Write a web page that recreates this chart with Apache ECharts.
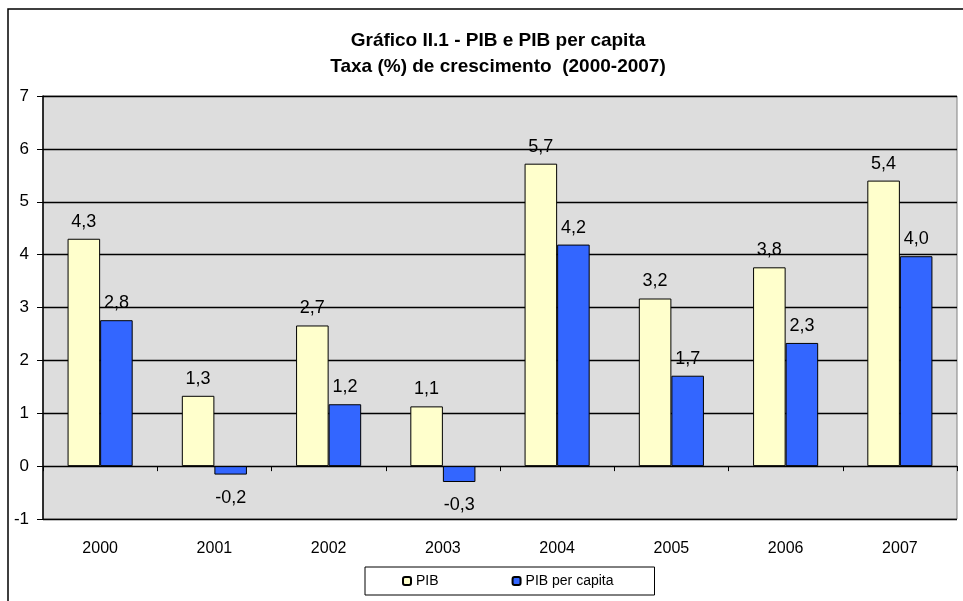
<!DOCTYPE html>
<html>
<head>
<meta charset="utf-8">
<script src="https://cdn.jsdelivr.net/npm/echarts@6/dist/echarts.min.js"></script>
<style>
  html, body { margin: 0; padding: 0; background: #fff; }
  #chart { width: 963px; height: 601px; }
</style>
</head>
<body>
<div id="chart"></div>
<script>
const years = ['2000', '2001', '2002', '2003', '2004', '2005', '2006', '2007']
const pib = [4.3, 1.33, 2.66, 1.13, 5.72, 3.17, 3.76, 5.4]
const pibPerCapita = [2.76, -0.16, 1.17, -0.3, 4.19, 1.71, 2.33, 3.97]
const seriesNames = ['PIB', 'PIB per capita']
const yTicks = { min: -1, max: 7, step: 1 }

const font = '"Liberation Sans", Arial, sans-serif'

const fmt = v => v.toFixed(1).replace('.', ',')

// negative bars get their label under the bar
const withLabels = arr => arr.map(v => ({
  value: v,
  label: { position: v < 0 ? 'bottom' : 'top', distance: v < 0 ? 14 : 8 }
}))

const barLabel = {
  show: true,
  color: '#000',
  fontFamily: font,
  fontSize: 18,
  formatter: p => fmt(p.value)
}

const option = {
  animation: false,
  title: {
    text: 'Gráfico II.1 - PIB e PIB per capita\nTaxa (%) de crescimento  (2000-2007)',
    left: 493,
    textAlign: 'center',
    top: 23,
    textStyle: {
      fontFamily: font,
      fontSize: 19,
      fontWeight: 'bold',
      color: '#000',
      lineHeight: 26
    }
  },
  legend: {
    data: seriesNames,
    left: 365,
    top: 567,
    padding: [7, 41, 7, 37],
    itemWidth: 8,
    itemHeight: 8,
    itemGap: 73,
    borderColor: '#000',
    borderWidth: 1,
    textStyle: { fontFamily: font, fontSize: 14, color: '#000' }
  },
  graphic: [{
    type: 'rect',
    shape: { x: 8, y: 9, width: 1000, height: 700 },
    style: { fill: 'none', stroke: '#000', lineWidth: 1.5 },
    silent: true
  }],
  grid: {
    left: 43,
    right: 6,
    top: 96,
    bottom: 82,
    show: true,
    backgroundColor: '#dddddd',
    borderColor: '#808080',
    borderWidth: 1
  },
  xAxis: [
    {
      type: 'category',
      data: years,
      axisLine: { onZero: true, lineStyle: { color: '#000', width: 1 } },
      axisTick: { show: true, length: 5, lineStyle: { color: '#000' } },
      axisLabel: { show: false }
    },
    {
      type: 'category',
      data: years,
      position: 'bottom',
      axisLine: { show: false, onZero: false },
      axisTick: { show: false },
      axisLabel: { margin: 22, color: '#000', fontFamily: font, fontSize: 16 }
    }
  ],
  yAxis: {
    type: 'value',
    min: yTicks.min,
    max: yTicks.max,
    interval: yTicks.step,
    axisLine: { show: true, lineStyle: { color: '#000', width: 1.5 } },
    axisTick: { show: true, length: 6, lineStyle: { color: '#000' } },
    axisLabel: { margin: 14, color: '#000', fontFamily: font, fontSize: 17 },
    splitLine: { lineStyle: { color: '#000', width: 1.3 } }
  },
  series: [
    {
      name: seriesNames[0],
      type: 'bar',
      xAxisIndex: 0,
      barWidth: '28.5%',
      barGap: '0%',
      itemStyle: { color: '#ffffcc', borderColor: '#000', borderWidth: 1 },
      label: barLabel,
      data: withLabels(pib)
    },
    {
      name: seriesNames[1],
      type: 'bar',
      xAxisIndex: 0,
      barWidth: '28.5%',
      barGap: '0%',
      itemStyle: { color: '#3366ff', borderColor: '#000', borderWidth: 1 },
      label: barLabel,
      data: withLabels(pibPerCapita)
    }
  ]
}

const myChart = echarts.init(document.getElementById('chart'))
myChart.setOption(option)
</script>
</body>
</html>
